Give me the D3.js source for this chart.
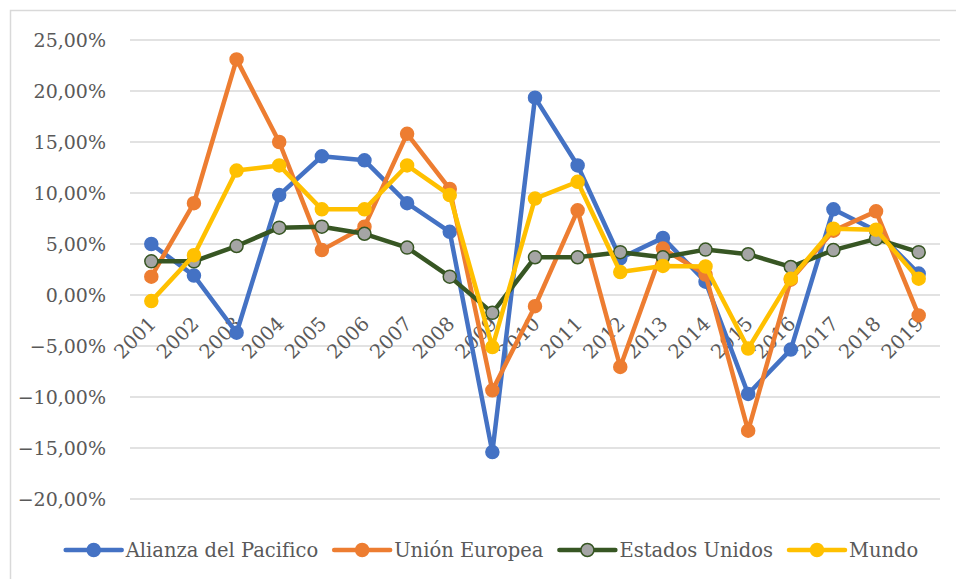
<!DOCTYPE html>
<html lang="es">
<head>
<meta charset="UTF-8">
<title>Crecimiento</title>
<script src="https://d3js.org/d3.v7.min.js"></script>
<style>
    body { margin: 0; background: #ffffff; }
    svg { display: block; }
</style>
</head>
<body>
<svg id="chart" width="956" height="579"></svg>
<script>
    const years = ["2001","2002","2003","2004","2005","2006","2007","2008","2009","2010",
                   "2011","2012","2013","2014","2015","2016","2017","2018","2019"];

    const alianza = [5.0, 1.9, -3.7, 9.8, 13.6, 13.2, 9.0, 6.2, -15.4, 19.35,
                     12.7, 3.6, 5.6, 1.3, -9.7, -5.35, 8.4, 6.3, 2.1];
    const unionEuropea = [1.8, 9.0, 23.1, 15.0, 4.4, 6.7, 15.8, 10.4, -9.35, -1.1,
                          8.3, -7.05, 4.55, 2.0, -13.3, 1.5, 6.3, 8.2, -2.0];
    const estadosUnidos = [3.3, 3.3, 4.8, 6.6, 6.7, 6.0, 4.65, 1.8, -1.75, 3.7,
                           3.7, 4.2, 3.7, 4.45, 4.0, 2.75, 4.4, 5.5, 4.2];
    const mundo = [-0.6, 3.9, 12.2, 12.7, 8.4, 8.4, 12.7, 9.8, -5.1, 9.45,
                   11.1, 2.25, 2.85, 2.8, -5.25, 1.6, 6.5, 6.4, 1.6];

    const yTicks = [-20, -15, -10, -5, 0, 5, 10, 15, 20, 25];

    const series = [
        { name: "Alianza del Pacifico", values: alianza, stroke: "#4472C4", fill: "#4472C4" },
        { name: "Unión Europea", values: unionEuropea, stroke: "#ED7D31", fill: "#ED7D31" },
        { name: "Estados Unidos", values: estadosUnidos, stroke: "#375623", fill: "#A5A5A5" },
        { name: "Mundo", values: mundo, stroke: "#FFC000", fill: "#FFC000" }
    ];

    // Times-like serif is not available here, DejaVu Serif is the closest
    const FONT = "DejaVu Serif";
    const svg = d3.select("#chart");
    const plot = { left: 130, right: 940, top: 40, bottom: 499 };

    // chart frame (only top and left edges are visible in the picture)
    svg.append("rect")
        .attr("x", 10.5).attr("y", 10.5)
        .attr("width", 960).attr("height", 600)
        .attr("fill", "none")
        .attr("stroke", "#D9D9D9")
        .attr("stroke-width", 1.5);

    const x = d3.scaleBand().domain(years).range([plot.left, plot.right]);
    const y = d3.scaleLinear().domain([-20, 25]).range([plot.bottom, plot.top]);
    const fmt = v => d3.format(".2f")(v).replace(".", ",") + "%";

    // gridlines
    svg.append("g")
        .selectAll("line")
        .data(yTicks)
        .join("line")
        .attr("x1", plot.left).attr("x2", plot.right)
        .attr("y1", d => y(d)).attr("y2", d => y(d))
        .attr("stroke", "#D9D9D9")
        .attr("stroke-width", 1.5);

    // y axis labels
    svg.append("g")
        .selectAll("text")
        .data(yTicks)
        .join("text")
        .attr("x", 106)
        .attr("y", d => y(d) + 7)
        .attr("text-anchor", "end")
        .attr("font-family", FONT)
        .attr("font-size", 19)
        .attr("fill", "#595959")
        .text(fmt);

    // x axis labels, rotated
    svg.append("g")
        .selectAll("text")
        .data(years)
        .join("text")
        .attr("text-anchor", "end")
        .attr("font-family", FONT)
        .attr("font-size", 19.5)
        .attr("fill", "#595959")
        .attr("transform", d => `translate(${x(d) + x.bandwidth() / 2 + 6},${y(0) + 30}) rotate(-45)`)
        .text(d => d);

    const cx = d => x(d) + x.bandwidth() / 2;
    const line = d3.line()
        .x((d, i) => cx(years[i]))
        .y(d => y(d));

    series.forEach(s => {
        const g = svg.append("g");
        g.append("path")
            .datum(s.values)
            .attr("d", line)
            .attr("fill", "none")
            .attr("stroke", s.stroke)
            .attr("stroke-width", 4.5)
            .attr("stroke-linejoin", "round");
        g.selectAll("circle")
            .data(s.values)
            .join("circle")
            .attr("cx", (d, i) => cx(years[i]))
            .attr("cy", d => y(d))
            .attr("r", 6.5)
            .attr("fill", s.fill)
            .attr("stroke", s.stroke)
            .attr("stroke-width", 1.5);
    });

    // legend
    const legend = svg.append("g");
    const items = series.map(s => {
        const g = legend.append("g");
        g.append("line")
            .attr("x1", 0).attr("x2", 56)
            .attr("y1", 0).attr("y2", 0)
            .attr("stroke", s.stroke)
            .attr("stroke-width", 4.5)
            .attr("stroke-linecap", "round");
        g.append("circle")
            .attr("cx", 28).attr("cy", 0).attr("r", 6.5)
            .attr("fill", s.fill)
            .attr("stroke", s.stroke)
            .attr("stroke-width", 1.5);
        const t = g.append("text")
            .attr("x", 60).attr("y", 7)
            .attr("font-family", FONT)
            .attr("font-size", 19.5)
            .attr("fill", "#595959")
            .text(s.name);
        return { g, w: 60 + t.node().getComputedTextLength() };
    });
    const gap = 16;
    const total = d3.sum(items, d => d.w) + gap * (items.length - 1);
    let lx = 492 - total / 2;
    items.forEach(it => {
        it.g.attr("transform", `translate(${lx},550)`);
        lx += it.w + gap;
    });
</script>
</body>
</html>
